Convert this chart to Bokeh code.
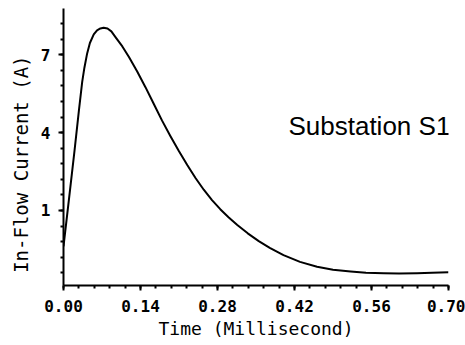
from bokeh.plotting import figure
from bokeh.models import Range1d, FixedTicker, Label
from bokeh.embed import file_html
from bokeh.resources import INLINE

# Time in milliseconds and in-flow current in amperes
time_ms = [0.0, 0.01, 0.02, 0.028, 0.034, 0.038, 0.043, 0.048, 0.055, 0.061,
           0.067, 0.073, 0.08, 0.087, 0.0945, 0.107, 0.119, 0.134, 0.149, 0.164,
           0.179, 0.1945, 0.21, 0.225, 0.24, 0.255, 0.27, 0.285, 0.30, 0.316,
           0.335, 0.355, 0.375, 0.40, 0.43, 0.461, 0.49, 0.522, 0.55, 0.582,
           0.61, 0.643, 0.67, 0.70]
current_a = [-0.38, 1.45, 3.30, 4.85, 5.95, 6.50, 7.05, 7.45, 7.78, 7.94,
             8.01, 8.04, 8.01, 7.90, 7.68, 7.32, 6.91, 6.35, 5.75, 5.11,
             4.47, 3.86, 3.28, 2.75, 2.25, 1.80, 1.40, 1.05, 0.74, 0.44,
             0.12, -0.18, -0.44, -0.72, -0.98, -1.17, -1.28, -1.35, -1.40, -1.42,
             -1.43, -1.42, -1.40, -1.38]

x_major = [0.0, 0.14, 0.28, 0.42, 0.56, 0.70]
x_labels = ["0.00", "0.14", "0.28", "0.42", "0.56", "0.70"]
x_minor = [round(i * 0.028, 3) for i in range(26)]
y_major = [1, 4, 7]
y_minor = [round(-1.4 + 0.6 * i, 1) for i in range(17)]

annotation = "Substation S1"
x_title = "Time (Millisecond)"
y_title = "In-Flow Current (A)"

p = figure(width=465, height=345, output_backend="svg", toolbar_location=None,
           x_range=Range1d(0, 0.70), y_range=Range1d(-1.89, 8.78),
           min_border_left=63, min_border_right=17, min_border_top=8,
           min_border_bottom=60)
p.outline_line_color = None
p.grid.visible = False
p.background_fill_color = "white"
p.border_fill_color = "white"

p.line(time_ms, current_a, line_color="black", line_width=2, line_join="round")

mono = "DejaVu Sans Mono"
p.xaxis.ticker = FixedTicker(ticks=x_major, minor_ticks=x_minor)
p.xaxis.major_label_overrides = {t: l for t, l in zip(x_major, x_labels)}
p.yaxis.ticker = FixedTicker(ticks=y_major, minor_ticks=y_minor)

for ax in (p.xaxis[0], p.yaxis[0]):
    ax.axis_line_color = "black"
    ax.axis_line_width = 2
    ax.major_tick_line_color = "black"
    ax.major_tick_line_width = 2
    ax.minor_tick_line_color = "black"
    ax.minor_tick_line_width = 2
    ax.major_tick_in = 0
    ax.major_tick_out = 5
    ax.minor_tick_in = 0
    ax.minor_tick_out = 3
    ax.major_label_text_font = mono
    ax.major_label_text_font_style = "bold"
    ax.major_label_text_font_size = "16px"
    ax.major_label_text_color = "black"
    ax.axis_label_text_font = mono
    ax.axis_label_text_font_style = "normal"
    ax.axis_label_text_color = "black"

p.xaxis.axis_label = x_title
p.yaxis.axis_label = y_title + "\u00a0\u00a0\u00a0"
p.xaxis.axis_label_text_font_size = "18px"
p.yaxis.axis_label_text_font_size = "19px"
p.xaxis.major_label_standoff = 9
p.xaxis.axis_label_standoff = 3
p.yaxis.major_label_standoff = 8
p.yaxis.axis_label_standoff = 6

p.add_layout(Label(x=0.409, y=4.24, text=annotation, text_font="Liberation Sans",
                   text_font_size="26px", text_color="black",
                   text_baseline="alphabetic"))

open("out.html", "w").write(file_html(p, INLINE))
